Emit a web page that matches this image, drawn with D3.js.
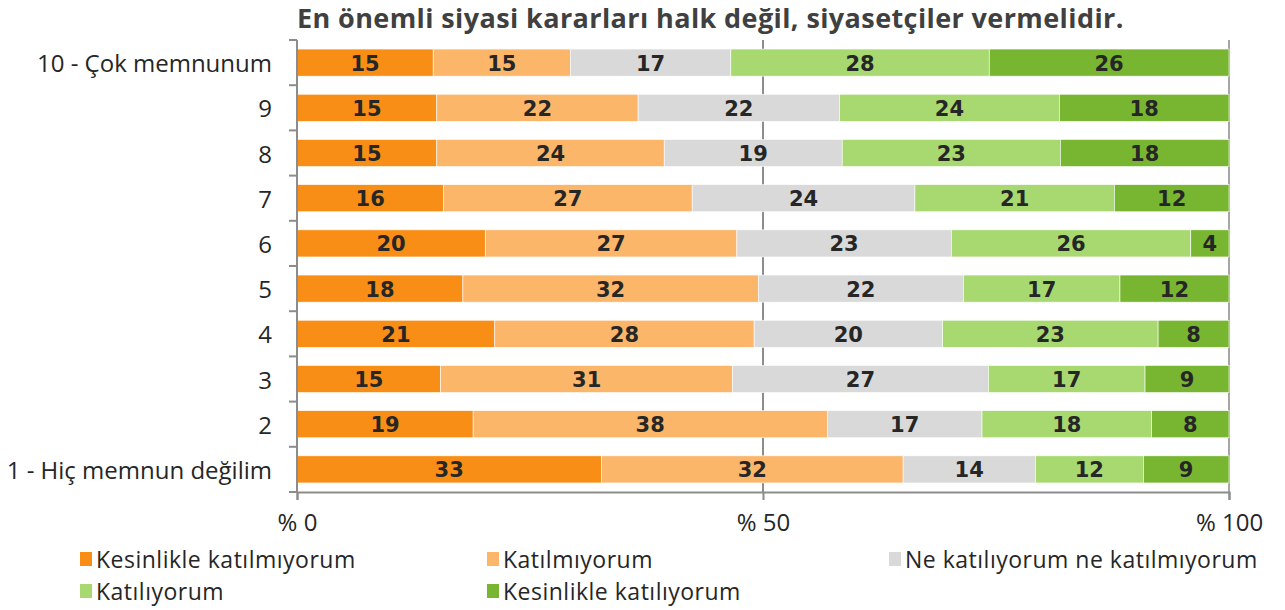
<!DOCTYPE html>
<html>
<head>
<meta charset="utf-8">
<script src="https://cdn.jsdelivr.net/npm/d3@7"></script>
<style>
  body { margin: 0; background: #fff; }
  svg { display: block; }
</style>
</head>
<body>
<svg id="chart" width="1285" height="610"></svg>
<script>
// rows, top to bottom
const categories = ["10 - Çok memnunum", "9", "8", "7", "6", "5", "4", "3", "2", "1 - Hiç memnun değilim"];

// answer groups (shares in %)
const series = ["Kesinlikle katılmıyorum", "Katılmıyorum", "Ne katılıyorum ne katılmıyorum", "Katılıyorum", "Kesinlikle katılıyorum"];
const stronglyDisagree = [14.6, 15.0, 15.0, 15.7, 20.2, 17.8, 21.2, 15.4, 18.9, 32.7];
const disagree         = [14.7, 21.6, 24.4, 26.7, 27.0, 31.7, 27.8, 31.3, 38.0, 32.4];
const neutral          = [17.2, 21.6, 19.1, 23.9, 23.0, 22.0, 20.2, 27.4, 16.6, 14.2];
const agree            = [27.7, 23.6, 23.4, 21.4, 25.7, 16.8, 23.1, 16.8, 18.2, 11.6];
const stronglyAgree    = [25.7, 18.2, 18.1, 12.3, 4.1, 11.7, 7.6, 9.0, 8.3, 9.2];

const xTicks = [0, 50, 100];
const xTickLabels = ["% 0", "% 50", "% 100"];
const colors = ["#f98e17", "#fbb669", "#d9d9d9", "#a8d970", "#78b631"];
const title = "En önemli siyasi kararları halk değil, siyasetçiler vermelidir.";

const allSeries = [stronglyDisagree, disagree, neutral, agree, stronglyAgree];
const rows = categories.map((c, i) => {
  const r = { cat: c };
  series.forEach((s, j) => r[s] = allSeries[j][i]);
  return r;
});

const svg = d3.select("#chart");
const plotL = 297, plotR = 1229, plotT = 40, plotB = 492;

const x = d3.scaleLinear().domain([0, 100]).range([plotL, plotR]);
const y = d3.scaleBand().domain(categories).range([plotT, plotB])
  .paddingInner(0.4).paddingOuter(0.2);
const color = d3.scaleOrdinal().domain(series).range(colors);

const stacked = d3.stack().keys(series)
  .offset(d3.stackOffsetExpand)(rows);

// title
svg.append("text")
  .attr("x", plotL).attr("y", 28)
  .attr("font-family", "Open Sans").attr("font-weight", "bold")
  .attr("font-size", 27).attr("letter-spacing", 0.4).attr("fill", "#404040")
  .text(title);

// gridlines
svg.append("g").selectAll("line")
  .data([50, 100]).join("line")
  .attr("x1", d => x(d)).attr("x2", d => x(d))
  .attr("y1", plotT).attr("y2", plotB)
  .attr("stroke", d => d === 100 ? "#a6a6a6" : "#8c8c8c")
  .attr("stroke-width", 2);

// bars
const layer = svg.append("g").selectAll("g")
  .data(stacked).join("g")
  .attr("fill", d => color(d.key));

layer.selectAll("rect")
  .data(d => d.map(v => ({ key: d.key, v })))
  .join("rect")
  .attr("x", d => x(d.v[0] * 100))
  .attr("width", d => x(d.v[1] * 100) - x(d.v[0] * 100))
  .attr("y", d => y(d.v.data.cat))
  .attr("height", y.bandwidth())
  .attr("stroke", "#fff").attr("stroke-width", 0.6);

// value labels
layer.selectAll("text")
  .data(d => d.map(v => ({ key: d.key, v })))
  .join("text")
  .attr("x", d => x((d.v[0] + d.v[1]) * 50))
  .attr("y", d => y(d.v.data.cat) + y.bandwidth() / 2 + 1)
  .attr("text-anchor", "middle").attr("dominant-baseline", "central")
  .attr("font-family", "DejaVu Sans").attr("font-weight", "bold")
  .attr("font-size", 21).attr("fill", "#262626")
  .text(d => Math.round(d.v.data[d.key]));

// y axis
const step = y.step();
const yAxis = svg.append("g");
yAxis.append("line")
  .attr("x1", plotL).attr("x2", plotL).attr("y1", plotT).attr("y2", plotB)
  .attr("stroke", "#8c8c8c").attr("stroke-width", 2);
yAxis.selectAll("line.tick")
  .data(categories.concat([null])).join("line")
  .attr("class", "tick")
  .attr("x1", plotL - 8).attr("x2", plotL)
  .attr("y1", (d, i) => plotT + i * step).attr("y2", (d, i) => plotT + i * step)
  .attr("stroke", "#8c8c8c").attr("stroke-width", 2);
yAxis.selectAll("text")
  .data(categories).join("text")
  .attr("x", plotL - 25)
  .attr("y", d => y(d) + y.bandwidth() / 2)
  .attr("text-anchor", "end").attr("dominant-baseline", "central")
  .attr("font-family", "Open Sans").attr("font-size", 24).attr("fill", "#262626")
  .text(d => d);

// x axis
const xAxis = svg.append("g").attr("transform", `translate(0,${plotB})`)
  .call(d3.axisBottom(x).tickValues(xTicks).tickSize(8).tickPadding(14)
    .tickFormat((d, i) => xTickLabels[i]));
xAxis.select(".domain").attr("stroke", "#8c8c8c").attr("stroke-width", 2);
xAxis.selectAll(".tick line").attr("stroke", "#8c8c8c").attr("stroke-width", 2);
xAxis.selectAll(".tick text")
  .attr("font-family", "Open Sans").attr("font-size", 24).attr("fill", "#262626");

// legend
const legendPos = [[80, 559], [487, 559], [889, 559], [80, 591], [487, 591]];
const legend = svg.append("g").selectAll("g")
  .data(series).join("g")
  .attr("transform", (d, i) => `translate(${legendPos[i][0]},${legendPos[i][1]})`);
legend.append("rect")
  .attr("x", 0).attr("y", -7).attr("width", 12).attr("height", 14)
  .attr("fill", d => color(d));
legend.append("text")
  .attr("x", 16).attr("y", 0).attr("dominant-baseline", "central")
  .attr("font-family", "Open Sans").attr("font-size", 23).attr("letter-spacing", 0.5)
  .attr("fill", "#262626")
  .text(d => d);
</script>
</body>
</html>
